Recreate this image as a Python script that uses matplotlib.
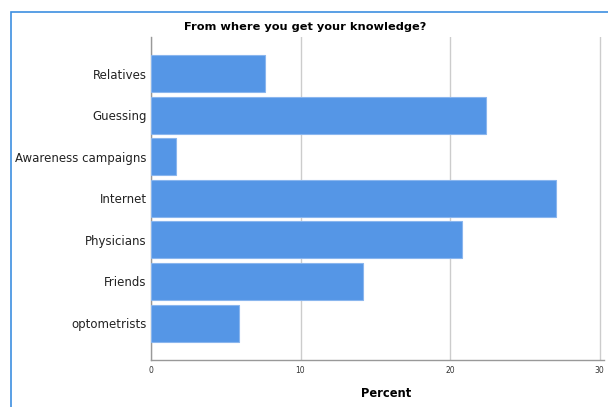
import matplotlib
matplotlib.use("Agg")
import matplotlib.pyplot as plt
from matplotlib.patches import Rectangle

categories = ["Relatives", "Guessing", "Awareness campaigns", "Internet",
              "Physicians", "Friends", "optometrists"]
percent = [7.6, 22.4, 1.7, 27.1, 20.8, 14.2, 5.9]
xticks = [0, 10, 20, 30]

fig = plt.figure(figsize=(6.08, 4.07), dpi=100)
fig.patches.append(Rectangle((11/608, -0.1), 1.2, 1 - 12/407 + 0.1,
                             transform=fig.transFigure, fill=False,
                             edgecolor="#3d8fe0", linewidth=1.2))

ax = fig.add_axes([151/608, 1 - 360/407, 453/608, (360 - 37)/407])
y = list(range(len(categories)))
ax.barh(y, percent, height=0.89, color="#5596e6", edgecolor="#8ab6ee",
        linewidth=0.8, zorder=3)
ax.set_yticks(y)
ax.set_yticklabels(categories, fontsize=8.5, color="#222222")
ax.set_ylim(6.89, -0.88)
ax.set_xlim(0, 30.3)
ax.set_xticks(xticks)
ax.set_xticklabels([str(t) for t in xticks], fontsize=5.5, color="#333333")
ax.tick_params(axis="y", length=0, pad=3)
ax.tick_params(axis="x", length=0, pad=4)
ax.grid(axis="x", color="#cccccc", linewidth=1.0, zorder=0)
for s in ["top", "right"]:
    ax.spines[s].set_visible(False)
for s in ["left", "bottom"]:
    ax.spines[s].set_color("#999999")
    ax.spines[s].set_linewidth(1.0)
ax.set_xlabel("Percent", fontsize=8.3, fontweight="bold", labelpad=8)
ax.xaxis.set_label_coords((386 - 151) / 453, -0.085)
fig.text(305/608, 1 - 27/407, "From where you get your knowledge?",
         ha="center", va="center", fontsize=8.2, fontweight="bold")

fig.savefig("out.png", dpi=100)
